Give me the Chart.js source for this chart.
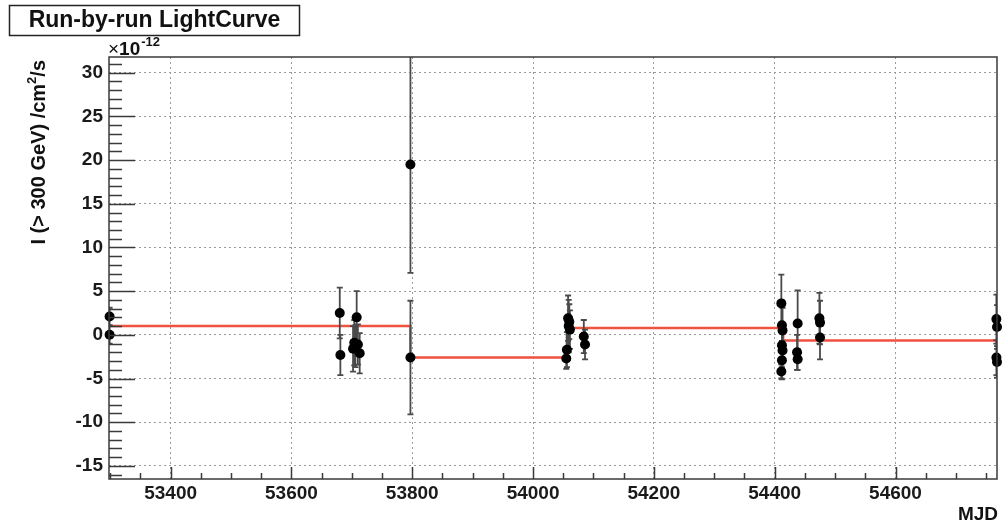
<!DOCTYPE html>
<html>
<head>
<meta charset="utf-8">
<title>Run-by-run LightCurve</title>
<script src="https://cdn.jsdelivr.net/npm/chart.js@4.4.1/dist/chart.umd.min.js"></script>
<style>
    html, body { margin: 0; padding: 0; background: #fff; }
    #wrap { width: 1002px; height: 525px; }
</style>
</head>
<body>
<div id="wrap"><canvas id="lc-chart"></canvas></div>
<script>
// ===== DATA =====
const runMjd = [53299, 53299,
    53680, 53681, 53702, 53704, 53706, 53708, 53710, 53713,
    53797, 53797,
    54055, 54056, 54058, 54059, 54060, 54061, 54084, 54086,
    54411, 54412, 54413, 54412, 54413, 54412, 54411,
    54438, 54437, 54438,
    54474, 54475, 54475,
    54767, 54768, 54767, 54768];
const runFlux = [2.1, 0.0,
    2.5, -2.3, -1.6, -0.9, -1.3, 2.0, -1.1, -2.1,
    19.5, -2.6,
    -2.7, -1.7, 1.9, 1.0, 1.5, 0.6, -0.2, -1.1,
    3.6, 1.1, 0.5, -1.2, -1.8, -2.9, -4.2,
    1.3, -2.0, -2.8,
    1.9, 1.4, -0.3,
    1.8, 0.9, -2.6, -3.1];
const runErr = [1.0, 1.0,
    2.9, 2.3, 2.6, 2.6, 2.4, 3.0, 2.3, 2.3,
    12.4, 6.5,
    1.2, 2.0, 2.6, 3.0, 2.0, 2.2, 1.9, 1.7,
    3.3, 2.8, 2.6, 2.5, 2.4, 2.2, 0.8,
    3.8, 2.0, 1.2,
    2.9, 2.5, 2.5,
    2.8, 2.5, 2.0, 1.8];

// fitted constant flux per period (step line)
const fitMjd = [53298, 53797, 54056, 54414, 54768];
const fitFlux = [1.0, -2.6, 0.77, -0.65, -0.65];

const xTickVals = [53400, 53600, 53800, 54000, 54200, 54400, 54600];
const yTickVals = [-15, -10, -5, 0, 5, 10, 15, 20, 25, 30];

const X_MIN = 53298, X_MAX = 54768;
const Y_MIN = -16.5, Y_MAX = 31.8;

const FONT = '"Liberation Sans", Arial, Helvetica, sans-serif';
const AXIS_COLOR = '#3a3a3a';

// ===== DRAW HELPERS =====
function drawErrorBars(chart) {
    const ctx = chart.ctx;
    const area = chart.chartArea;
    const xs = chart.scales.x;
    const ys = chart.scales.y;

    ctx.save();
    ctx.beginPath();
    ctx.rect(area.left, area.top, area.right - area.left, area.bottom - area.top);
    ctx.clip();
    ctx.strokeStyle = '#4a4a4a';
    ctx.lineWidth = 1.8;
    runMjd.forEach((m, i) => {
        const px = xs.getPixelForValue(m);
        const yHi = ys.getPixelForValue(runFlux[i] + runErr[i]);
        const yLo = ys.getPixelForValue(runFlux[i] - runErr[i]);
        ctx.beginPath();
        ctx.moveTo(px, yHi); ctx.lineTo(px, yLo);
        ctx.moveTo(px - 3, yHi); ctx.lineTo(px + 3, yHi);
        ctx.moveTo(px - 3, yLo); ctx.lineTo(px + 3, yLo);
        ctx.stroke();
    });
    ctx.restore();
}

function drawFrame(chart) {
    const ctx = chart.ctx;
    const area = chart.chartArea;
    const xs = chart.scales.x;
    const ys = chart.scales.y;

    ctx.save();
    ctx.strokeStyle = AXIS_COLOR;
    ctx.lineWidth = 1.5;
    ctx.beginPath();
    // y axis ticks, inside the frame
    for (let v = Math.ceil(Y_MIN); v <= Math.floor(Y_MAX); v++) {
        const py = Math.round(ys.getPixelForValue(v)) + 0.5;
        const len = (v % 5 === 0) ? 26 : 13;
        ctx.moveTo(area.left, py);
        ctx.lineTo(area.left + len, py);
    }
    // x axis ticks
    for (let v = 53300; v <= X_MAX; v += 50) {
        const px = Math.round(xs.getPixelForValue(v)) + 0.5;
        const len = (v % 200 === 0) ? 12 : 6;
        ctx.moveTo(px, area.bottom);
        ctx.lineTo(px, area.bottom - len);
    }
    ctx.stroke();
    ctx.strokeRect(area.left, area.top, area.right - area.left, area.bottom - area.top);
    ctx.restore();
}

function drawTexts(chart) {
    const ctx = chart.ctx;
    const area = chart.chartArea;

    ctx.save();
    // title box
    ctx.fillStyle = '#fff';
    ctx.fillRect(9, 5, 291, 30);
    ctx.strokeStyle = '#222';
    ctx.lineWidth = 1.5;
    ctx.strokeRect(9.5, 5.5, 290, 30);
    ctx.fillStyle = '#111';
    ctx.font = 'bold 23px ' + FONT;
    ctx.textAlign = 'center';
    ctx.textBaseline = 'middle';
    ctx.fillText('Run-by-run LightCurve', 154.5, 21);

    // exponent label
    ctx.textAlign = 'left';
    ctx.textBaseline = 'alphabetic';
    ctx.font = '19px ' + FONT;
    ctx.fillText('\u00d7', area.left - 1, 55);
    let w = ctx.measureText('\u00d7').width;
    ctx.font = 'bold 19px ' + FONT;
    ctx.fillText('10', area.left - 1 + w, 55);
    w += ctx.measureText('10').width;
    ctx.font = 'bold 13px ' + FONT;
    ctx.fillText('-12', area.left + w, 46);

    // x axis title
    ctx.font = 'bold 19px ' + FONT;
    ctx.textAlign = 'right';
    ctx.fillText('MJD', 998, 520);

    // y axis title, rotated, aligned to the top of the axis
    ctx.translate(39, 60);
    ctx.rotate(-Math.PI / 2);
    ctx.textBaseline = 'middle';
    ctx.textAlign = 'left';
    const partA = 'I (> 300 GeV) /cm';
    const partB = '2';
    const partC = '/s';
    ctx.font = 'bold 20px ' + FONT;
    const wA = ctx.measureText(partA).width;
    const wC = ctx.measureText(partC).width;
    ctx.font = 'bold 13px ' + FONT;
    const wB = ctx.measureText(partB).width;
    let x0 = -(wA + wB + wC);
    ctx.font = 'bold 20px ' + FONT;
    ctx.fillText(partA, x0, 0);
    ctx.font = 'bold 13px ' + FONT;
    ctx.fillText(partB, x0 + wA, -7);
    ctx.font = 'bold 20px ' + FONT;
    ctx.fillText(partC, x0 + wA + wB, 0);
    ctx.restore();
}

const rootStyle = {
    id: 'rootStyle',
    beforeDatasetDraw(chart, args) {
        if (args.index === 0) drawErrorBars(chart);
    },
    afterDraw(chart) {
        drawFrame(chart);
        drawTexts(chart);
    }
};

// ===== CHART =====
function initLightCurve() {
    const ctx = document.getElementById('lc-chart');

    const points = runMjd.map((m, i) => ({ x: m, y: runFlux[i] }));
    const fitLine = fitMjd.map((m, i) => ({ x: m, y: fitFlux[i] }));

    new Chart(ctx, {
        type: 'scatter',
        data: {
            datasets: [
                {
                    label: 'runs',
                    data: points,
                    pointRadius: 5,
                    pointBackgroundColor: '#000',
                    pointBorderColor: '#000',
                    pointBorderWidth: 0,
                    clip: false
                },
                {
                    type: 'line',
                    label: 'fit',
                    data: fitLine,
                    stepped: true,
                    borderColor: 'rgb(240, 82, 66)',
                    borderWidth: 2.5,
                    pointRadius: 0,
                    fill: false
                }
            ]
        },
        options: {
            responsive: true,
            maintainAspectRatio: false,
            animation: false,
            events: [],
            layout: { padding: { top: 57, right: 2, left: 0, bottom: 0 } },
            plugins: { legend: { display: false }, tooltip: { enabled: false } },
            scales: {
                x: {
                    type: 'linear',
                    min: X_MIN, max: X_MAX,
                    afterBuildTicks: s => { s.ticks = xTickVals.map(v => ({ value: v })); },
                    afterFit: s => { s.height = 46; },
                    ticks: {
                        color: '#1a1a1a',
                        font: { family: FONT, size: 19, weight: 'bold' },
                        padding: 3,
                        maxRotation: 0,
                        callback: v => String(v)
                    },
                    grid: { color: '#9a9a9a', lineWidth: 1, drawTicks: false },
                    border: { display: false, dash: [2, 3] }
                },
                y: {
                    type: 'linear',
                    min: Y_MIN, max: Y_MAX,
                    afterBuildTicks: s => { s.ticks = yTickVals.map(v => ({ value: v })); },
                    afterFit: s => { s.width = 109; },
                    ticks: {
                        color: '#1a1a1a',
                        font: { family: FONT, size: 19, weight: 'bold' },
                        padding: 6,
                        callback: v => String(v)
                    },
                    grid: { color: '#9a9a9a', lineWidth: 1, drawTicks: false },
                    border: { display: false, dash: [2, 3] }
                }
            }
        },
        plugins: [rootStyle]
    });
}

initLightCurve();
</script>
</body>
</html>
